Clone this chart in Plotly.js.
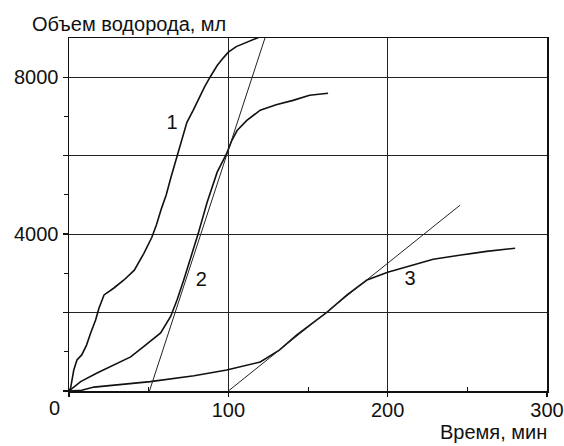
<!DOCTYPE html>
<html>
<head>
<meta charset="utf-8">
<script src="https://cdn.plot.ly/plotly-3.0.1.min.js"></script>
<style>html,body{margin:0;padding:0;background:#fff;}#chart{width:564px;height:446px;}</style>
</head>
<body>
<div id="chart"></div>
<script>
// Curve 1
var t1 = [0, 1, 3, 5, 8, 11, 13.6, 16.7, 18.8, 22, 28, 34.5, 41, 47, 52, 55, 58, 61, 64, 67.6, 71, 74, 78, 82, 85, 88.5, 93, 97, 100, 105, 112, 118, 121];
var v1 = [0, 75, 535, 790, 920, 1170, 1480, 1810, 2110, 2450, 2620, 2830, 3080, 3510, 3920, 4250, 4650, 5000, 5450, 5960, 6450, 6850, 7160, 7500, 7750, 8000, 8300, 8500, 8640, 8780, 8900, 9000, 9050];
// Curve 2
var t2 = [0, 7.3, 17.6, 28, 38.7, 48, 57.5, 63.8, 67.8, 72, 77, 81, 86.6, 93, 99, 102, 105.5, 111.6, 120, 130, 140.6, 151, 162.6];
var v2 = [0, 240, 460, 660, 870, 1170, 1480, 1900, 2320, 2830, 3480, 4000, 4800, 5580, 6060, 6370, 6640, 6900, 7160, 7300, 7410, 7540, 7590];
// Curve 3
var t3 = [0, 8, 15.7, 30, 51, 78.5, 99, 120, 132, 143, 152, 162, 174.5, 187, 200, 214, 228.6, 245, 262, 280];
var v3 = [0, 20, 100, 160, 240, 390, 535, 740, 1040, 1430, 1700, 2010, 2450, 2830, 3030, 3200, 3360, 3460, 3560, 3640];
// Tangent lines
var tanA_t = [50.5, 123];
var tanA_v = [0, 9000];
var tanB_t = [100, 245.5];
var tanB_v = [0, 4740];
// Curve labels
var lblText = ["1", "2", "3"];
var lblT = [64.7, 83, 214];
var lblV = [6800, 2800, 2830];
// Axis ticks
var xTickVals = [0, 100, 200, 300];
var xTickText = ["", "100", "200", "300"];
var yTickVals = [0, 2000, 4000, 6000, 8000];
var yTickText = ["", "", "4000", "", "8000"];

var FONT = "Liberation Sans, Arial, sans-serif";
var curveLine = {color: "#111", width: 1.6};
var tanLine = {color: "#222", width: 1};

var traces = [
  {x: t1, y: v1, mode: "lines", line: curveLine, hoverinfo: "skip"},
  {x: t2, y: v2, mode: "lines", line: curveLine, hoverinfo: "skip"},
  {x: t3, y: v3, mode: "lines", line: curveLine, hoverinfo: "skip"},
  {x: tanA_t, y: tanA_v, mode: "lines", line: tanLine, hoverinfo: "skip"},
  {x: tanB_t, y: tanB_v, mode: "lines", line: tanLine, hoverinfo: "skip"},
  {x: lblT, y: lblV, mode: "text", text: lblText, textfont: {family: FONT, size: 20, color: "#111"}, hoverinfo: "skip"}
];

var layout = {
  width: 564, height: 446,
  margin: {l: 69, r: 17, t: 38, b: 55},
  paper_bgcolor: "#fff", plot_bgcolor: "#fff",
  showlegend: false,
  font: {family: FONT, size: 20, color: "#111"},
  xaxis: {
    range: [0, 300], tickvals: xTickVals, ticktext: xTickText,
    showgrid: true, gridcolor: "#222", gridwidth: 1.2,
    showline: true, mirror: true, linecolor: "#111", linewidth: 1.5,
    ticks: "outside", ticklen: 4, tickcolor: "#111", tickwidth: 1.3,
    ticklabelstandoff: -4,
    minor: {tickvals: [50, 150, 250], ticks: "inside", ticklen: 4, tickcolor: "#111", tickwidth: 1, showgrid: false},
    zeroline: false, tickfont: {family: FONT, size: 20, color: "#111"}
  },
  yaxis: {
    range: [0, 9000], tickvals: yTickVals, ticktext: yTickText,
    showgrid: true, gridcolor: "#222", gridwidth: 1.2,
    showline: true, mirror: true, linecolor: "#111", linewidth: 1.5,
    ticks: "outside", ticklen: 5, tickcolor: "#111", tickwidth: 1.3,
    minor: {tickvals: [1000, 3000, 5000, 7000], ticks: "outside", ticklen: 4, tickcolor: "#111", tickwidth: 1, showgrid: false},
    zeroline: false, tickfont: {family: FONT, size: 20, color: "#111"}
  },
  annotations: [
    {text: "Объем водорода, мл", xref: "paper", yref: "paper", x: -0.0816, y: 1.04, xanchor: "left", yanchor: "middle", showarrow: false, font: {family: FONT, size: 20, color: "#111"}},
    {text: "Время, мин", xref: "paper", yref: "paper", x: 1.004, y: -0.115, xanchor: "right", yanchor: "middle", showarrow: false, font: {family: FONT, size: 20, color: "#111"}},
    {text: "0", xref: "paper", yref: "paper", x: -0.031, y: -0.048, xanchor: "center", yanchor: "middle", showarrow: false, font: {family: FONT, size: 20, color: "#111"}}
  ]
};

Plotly.newPlot("chart", traces, layout, {staticPlot: true, displayModeBar: false});
</script>
</body>
</html>
